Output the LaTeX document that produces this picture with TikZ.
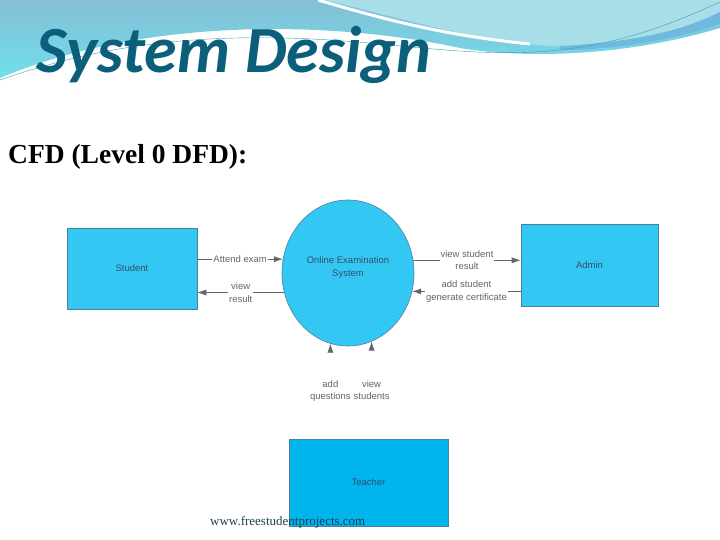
\documentclass[tikz,border=0pt]{standalone}
\usepackage{fontspec}
\setmainfont{Liberation Serif}
\newfontfamily\titlefont{Carlito}
\newfontfamily\diafont{Liberation Sans}
\usepackage{tikz}
\usetikzlibrary{arrows.meta,shapes.geometric}
\definecolor{boxblue}{HTML}{33C8F4}
\definecolor{teachblue}{HTML}{00B4EE}
\definecolor{edgeblue}{HTML}{4F7F98}
\definecolor{titleteal}{HTML}{0B5F7A}
\definecolor{flowgrey}{HTML}{666666}
\definecolor{slate}{HTML}{34506A}
\definecolor{wavetop}{HTML}{84BFD6}
\definecolor{wavelow}{HTML}{70DEEB}
\definecolor{wavepale}{HTML}{A8DEE8}
\definecolor{wavemid}{HTML}{6FB9DF}
\definecolor{waveline}{HTML}{3C9DB0}
\definecolor{wmark}{HTML}{1D3F4F}

\begin{document}
\begin{tikzpicture}[x=1pt,y=-1pt,
    entity/.style={draw=edgeblue,fill=boxblue,line width=0.6pt,inner sep=0pt,
      text=slate,font=\diafont\fontsize{9.5}{11}\selectfont},
    process/.style={ellipse,draw=edgeblue,fill=boxblue,line width=0.6pt,inner sep=0pt,
      minimum width=132pt,minimum height=146pt,align=center,text depth=13pt,
      text=slate,font=\diafont\fontsize{9.5}{13}\selectfont},
    flow/.style={draw=flowgrey,line width=0.6pt,-{Latex[length=9pt,width=6pt]}},
    hiddenflow/.style={draw=white,line width=0.6pt,-{Latex[length=9pt,width=6pt,color=flowgrey]}},
    lbl/.style={fill=white,inner sep=1pt,align=center,text=flowgrey,
      font=\diafont\fontsize{9.5}{12.5}\selectfont}]
  \useasboundingbox (0,0) rectangle (720,540);
  % slide background waves
  \shade[top color=wavetop,bottom color=wavelow] (0,0) -- (720,0) -- (720,28)
    .. controls (620,58) and (520,58) .. (460,48)
    .. controls (340,22) and (150,15) .. (0,78) -- cycle;
  \fill[wavepale] (325,0) -- (720,0) -- (720,12)
    .. controls (660,40) and (600,48) .. (550,46)
    .. controls (470,40) and (400,18) .. (325,0) -- cycle;
  \fill[wavemid] (560,46) .. controls (640,42) and (690,28) .. (720,12) -- (720,24)
    .. controls (680,38) and (620,50) .. (560,50) -- cycle;
  \draw[white,line width=3pt] (318,0) .. controls (380,18) and (440,35) .. (530,44);
  \draw[waveline,line width=0.4pt] (0,80) .. controls (100,45) and (200,32) .. (330,40)
    .. controls (420,46) and (480,58) .. (560,50) .. controls (630,42) and (680,20) .. (720,2);
  % titles
  \draw (33,73) node[anchor=base west,text=titleteal,
    font=\titlefont\bfseries\itshape\fontsize{66}{70}\selectfont] (title) {System Design};
  \draw (8,164) node[anchor=base west,inner sep=0pt,
    font=\bfseries\fontsize{27.5}{30}\selectfont] (subtitle) {CFD (Level 0 DFD):};
  % context diagram
  \draw (132,268.5) node[entity,minimum width=130pt,minimum height=81pt] (student) {Student};
  \draw (589.5,265) node[entity,minimum width=137pt,minimum height=82pt] (admin) {Admin};
  \draw (368.5,482.5) node[entity,fill=teachblue,minimum width=159pt,minimum height=87pt] (teacher) {Teacher};
  \draw (348,273) node[process] (sys) {Online Examination\\System};
  \path (student.east |- sys.168) edge[flow] node[lbl] {Attend exam} (sys.168);
  \path (sys.197) edge[flow] node[lbl] {view\\result} (student.east |- sys.197);
  \path (sys.11) edge[flow] node[lbl] {view student\\result} (admin.west |- sys.11);
  \path (admin.west |- sys.344) edge[flow] node[lbl] {add student\\generate certificate} (sys.344);
  \path (teacher.north -| sys.256) edge[hiddenflow] node[lbl] {add\\questions} (sys.256);
  \path (teacher.north -| sys.289) edge[hiddenflow] node[lbl] {view\\students} (sys.289);
  \draw (210,525) node[anchor=base west,inner sep=0pt,text=wmark,
    font=\fontsize{13}{15}\selectfont] (site) {www.freestudentprojects.com};
\end{tikzpicture}
\end{document}
